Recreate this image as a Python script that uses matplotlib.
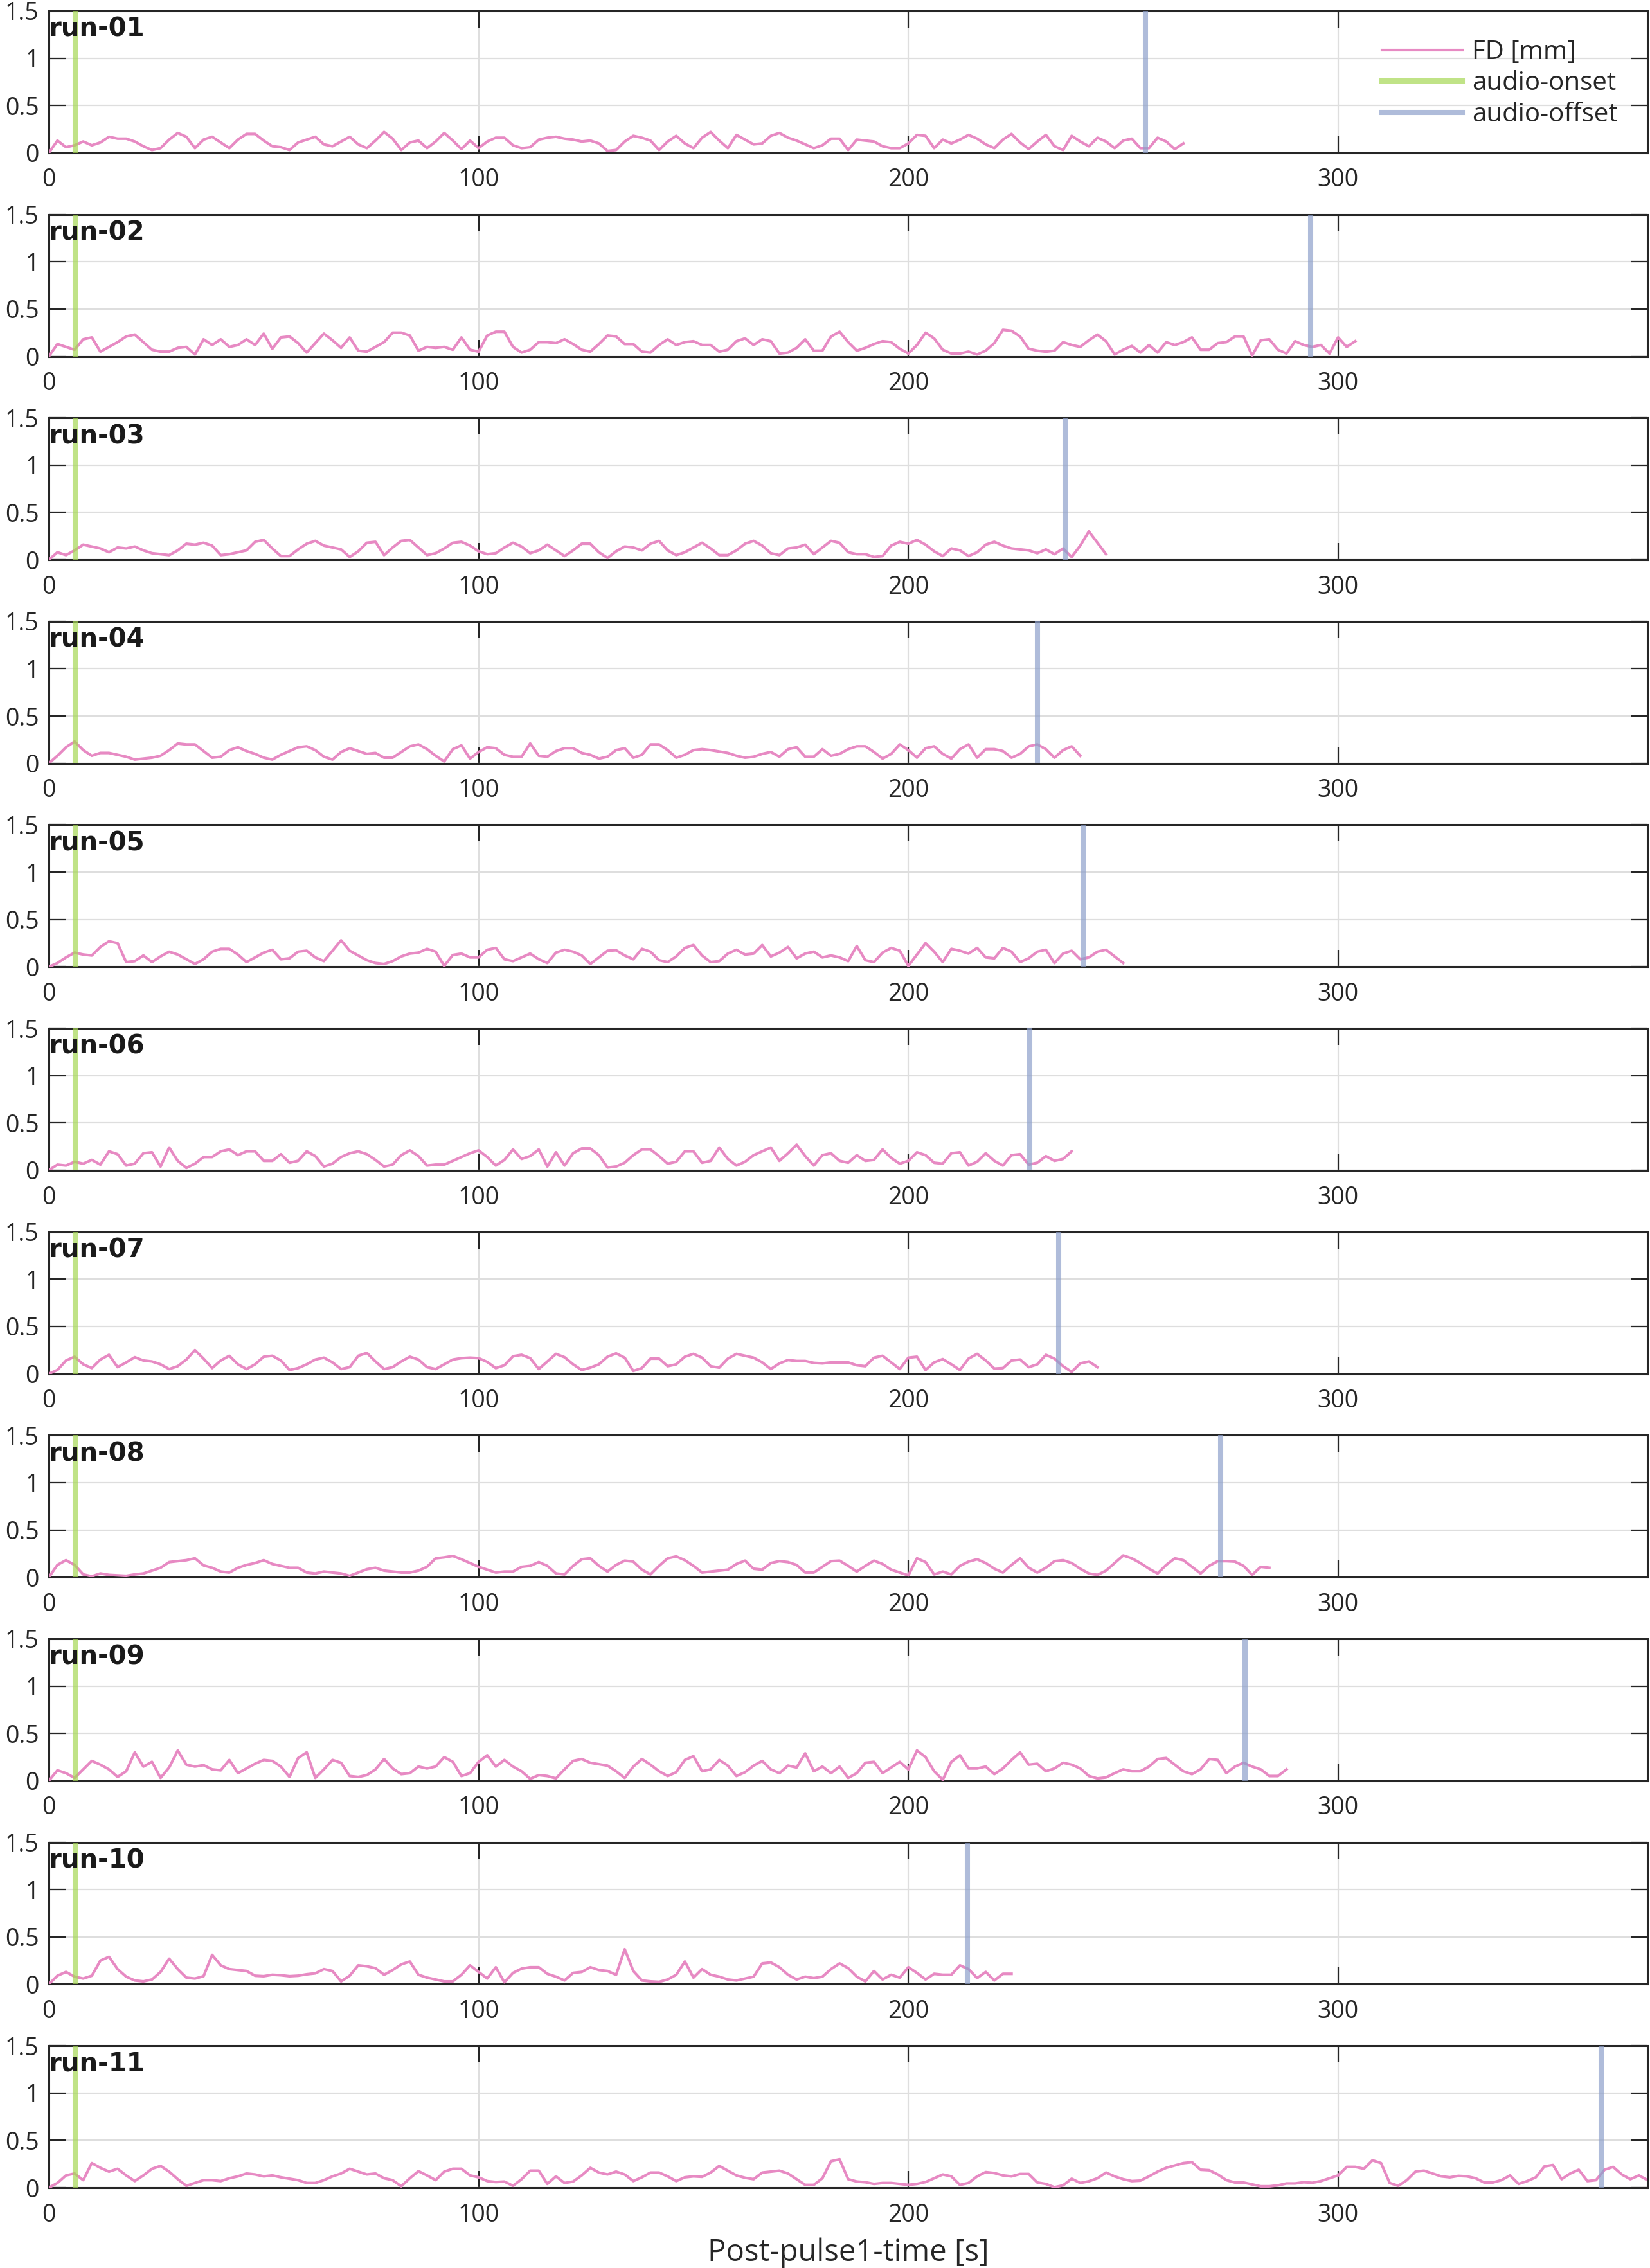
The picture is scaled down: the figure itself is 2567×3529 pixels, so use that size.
import numpy as np
import matplotlib
matplotlib.use("Agg")
import matplotlib.pyplot as plt

# Sampling interval of the FD series (s)
TR = 2.0

run_labels = ["run-01", "run-02", "run-03", "run-04", "run-05", "run-06",
              "run-07", "run-08", "run-09", "run-10", "run-11"]

audio_onset = [6.1, 6.1, 6.1, 6.1, 6.1, 6.1, 6.1, 6.1, 6.1, 6.1, 6.1]
audio_offset = [255.1, 293.6, 236.5, 230.0, 240.7, 228.3, 234.9, 272.6, 278.4, 213.8, 361.2]

fd_run01 = [0.0, 0.13, 0.06, 0.08, 0.12, 0.08, 0.11, 0.17, 0.15, 0.15, 0.12, 0.07, 0.03, 0.05, 0.14, 0.21,
            0.17, 0.05, 0.14, 0.17, 0.11, 0.05, 0.14, 0.20, 0.20, 0.13, 0.07, 0.06, 0.03, 0.11, 0.14, 0.17,
            0.09, 0.07, 0.12, 0.17, 0.09, 0.05, 0.13, 0.22, 0.15, 0.03, 0.11, 0.13, 0.05, 0.12, 0.21, 0.13,
            0.04, 0.13, 0.05, 0.12, 0.16, 0.16, 0.08, 0.05, 0.06, 0.14, 0.16, 0.17, 0.15, 0.14, 0.12, 0.13,
            0.10, 0.02, 0.03, 0.12, 0.18, 0.16, 0.13, 0.03, 0.12, 0.18, 0.10, 0.05, 0.16, 0.22, 0.13, 0.05,
            0.19, 0.14, 0.09, 0.10, 0.18, 0.21, 0.16, 0.13, 0.09, 0.05, 0.08, 0.15, 0.15, 0.03, 0.14, 0.13,
            0.12, 0.07, 0.05, 0.05, 0.10, 0.19, 0.18, 0.05, 0.14, 0.10, 0.14, 0.19, 0.15, 0.09, 0.05, 0.14,
            0.20, 0.11, 0.04, 0.12, 0.19, 0.07, 0.03, 0.18, 0.12, 0.07, 0.16, 0.12, 0.05, 0.13, 0.15, 0.05,
            0.05, 0.16, 0.12, 0.04, 0.10]

fd_run02 = [0.0, 0.13, 0.10, 0.07, 0.18, 0.20, 0.05, 0.10, 0.15, 0.21, 0.23, 0.15, 0.07, 0.05, 0.05, 0.09,
            0.10, 0.02, 0.18, 0.12, 0.18, 0.10, 0.12, 0.18, 0.12, 0.24, 0.08, 0.20, 0.21, 0.14, 0.04, 0.14,
            0.24, 0.17, 0.09, 0.20, 0.06, 0.05, 0.10, 0.15, 0.25, 0.25, 0.22, 0.06, 0.10, 0.09, 0.10, 0.07,
            0.20, 0.07, 0.05, 0.22, 0.26, 0.26, 0.10, 0.04, 0.07, 0.15, 0.15, 0.14, 0.18, 0.13, 0.07, 0.05,
            0.13, 0.22, 0.21, 0.13, 0.13, 0.05, 0.04, 0.12, 0.18, 0.12, 0.15, 0.16, 0.12, 0.12, 0.05, 0.07,
            0.16, 0.19, 0.12, 0.18, 0.16, 0.03, 0.04, 0.09, 0.18, 0.06, 0.06, 0.21, 0.26, 0.15, 0.06, 0.09,
            0.13, 0.16, 0.15, 0.08, 0.03, 0.12, 0.25, 0.19, 0.07, 0.03, 0.03, 0.05, 0.02, 0.06, 0.14, 0.28,
            0.27, 0.21, 0.08, 0.06, 0.05, 0.06, 0.15, 0.12, 0.10, 0.17, 0.23, 0.16, 0.02, 0.07, 0.11, 0.04,
            0.12, 0.04, 0.15, 0.12, 0.15, 0.20, 0.07, 0.07, 0.14, 0.15, 0.21, 0.21, 0.01, 0.17, 0.18, 0.07,
            0.03, 0.16, 0.12, 0.10, 0.12, 0.03, 0.20, 0.10, 0.16]

fd_run03 = [0.0, 0.08, 0.05, 0.10, 0.16, 0.14, 0.12, 0.08, 0.13, 0.12, 0.14, 0.10, 0.07, 0.06, 0.05, 0.10,
            0.17, 0.16, 0.18, 0.15, 0.05, 0.06, 0.08, 0.10, 0.19, 0.21, 0.12, 0.04, 0.04, 0.11, 0.17, 0.20,
            0.15, 0.13, 0.11, 0.03, 0.09, 0.18, 0.19, 0.05, 0.13, 0.20, 0.21, 0.13, 0.05, 0.07, 0.12, 0.18,
            0.19, 0.15, 0.09, 0.06, 0.07, 0.13, 0.18, 0.14, 0.07, 0.10, 0.16, 0.10, 0.04, 0.10, 0.17, 0.17,
            0.08, 0.02, 0.09, 0.14, 0.13, 0.10, 0.17, 0.20, 0.10, 0.05, 0.08, 0.13, 0.18, 0.12, 0.05, 0.05,
            0.10, 0.17, 0.20, 0.15, 0.07, 0.05, 0.12, 0.13, 0.16, 0.06, 0.13, 0.20, 0.18, 0.08, 0.06, 0.06,
            0.03, 0.04, 0.15, 0.19, 0.17, 0.21, 0.16, 0.09, 0.04, 0.12, 0.10, 0.04, 0.08, 0.16, 0.19, 0.15,
            0.12, 0.11, 0.10, 0.07, 0.11, 0.06, 0.12, 0.03, 0.15, 0.30, 0.18, 0.06]

fd_run04 = [0.0, 0.08, 0.17, 0.23, 0.14, 0.08, 0.11, 0.11, 0.09, 0.07, 0.04, 0.05, 0.06, 0.08, 0.14, 0.21,
            0.20, 0.20, 0.13, 0.06, 0.07, 0.14, 0.17, 0.13, 0.10, 0.06, 0.04, 0.09, 0.13, 0.17, 0.18, 0.14,
            0.07, 0.04, 0.12, 0.16, 0.13, 0.10, 0.11, 0.06, 0.06, 0.12, 0.18, 0.20, 0.15, 0.08, 0.02, 0.15,
            0.19, 0.05, 0.12, 0.17, 0.16, 0.09, 0.07, 0.07, 0.21, 0.08, 0.07, 0.13, 0.16, 0.16, 0.11, 0.09,
            0.05, 0.07, 0.14, 0.16, 0.06, 0.09, 0.20, 0.20, 0.14, 0.06, 0.09, 0.14, 0.15, 0.14, 0.125, 0.11,
            0.08, 0.06, 0.07, 0.10, 0.12, 0.07, 0.15, 0.17, 0.07, 0.07, 0.15, 0.08, 0.10, 0.15, 0.18, 0.18,
            0.12, 0.05, 0.10, 0.20, 0.14, 0.06, 0.16, 0.18, 0.10, 0.05, 0.15, 0.20, 0.06, 0.15, 0.15, 0.13,
            0.06, 0.10, 0.18, 0.20, 0.15, 0.06, 0.14, 0.18, 0.08]

fd_run05 = [0.0, 0.04, 0.10, 0.15, 0.13, 0.12, 0.21, 0.27, 0.25, 0.05, 0.06, 0.12, 0.05, 0.11, 0.16, 0.13,
            0.08, 0.03, 0.08, 0.16, 0.19, 0.19, 0.13, 0.05, 0.10, 0.15, 0.18, 0.08, 0.09, 0.16, 0.17, 0.10,
            0.06, 0.17, 0.28, 0.17, 0.12, 0.07, 0.04, 0.03, 0.06, 0.11, 0.14, 0.15, 0.19, 0.16, 0.01, 0.125,
            0.14, 0.10, 0.10, 0.18, 0.20, 0.08, 0.06, 0.10, 0.14, 0.08, 0.04, 0.15, 0.18, 0.16, 0.12, 0.03,
            0.10, 0.17, 0.175, 0.12, 0.08, 0.19, 0.16, 0.07, 0.05, 0.11, 0.20, 0.23, 0.12, 0.05, 0.06, 0.14,
            0.18, 0.13, 0.14, 0.23, 0.11, 0.15, 0.21, 0.09, 0.14, 0.16, 0.10, 0.12, 0.10, 0.06, 0.22, 0.07,
            0.05, 0.15, 0.20, 0.17, 0.01, 0.13, 0.25, 0.16, 0.05, 0.19, 0.17, 0.14, 0.20, 0.10, 0.09, 0.20,
            0.16, 0.05, 0.09, 0.16, 0.18, 0.04, 0.14, 0.17, 0.08, 0.10, 0.16, 0.18, 0.11, 0.04]

fd_run06 = [0.0, 0.06, 0.05, 0.09, 0.07, 0.11, 0.06, 0.20, 0.17, 0.05, 0.07, 0.18, 0.19, 0.04, 0.24, 0.10,
            0.025, 0.07, 0.14, 0.14, 0.20, 0.22, 0.16, 0.20, 0.20, 0.10, 0.10, 0.17, 0.08, 0.10, 0.20, 0.15,
            0.04, 0.07, 0.14, 0.18, 0.20, 0.17, 0.11, 0.04, 0.06, 0.16, 0.21, 0.15, 0.05, 0.06, 0.06, 0.10,
            0.14, 0.18, 0.21, 0.14, 0.05, 0.11, 0.22, 0.12, 0.15, 0.22, 0.04, 0.19, 0.05, 0.18, 0.23, 0.23,
            0.16, 0.03, 0.04, 0.08, 0.16, 0.22, 0.22, 0.15, 0.07, 0.09, 0.20, 0.20, 0.08, 0.10, 0.24, 0.12,
            0.05, 0.09, 0.16, 0.20, 0.24, 0.10, 0.18, 0.27, 0.15, 0.05, 0.16, 0.18, 0.10, 0.08, 0.16, 0.10,
            0.11, 0.22, 0.13, 0.07, 0.10, 0.19, 0.16, 0.08, 0.07, 0.18, 0.19, 0.05, 0.09, 0.18, 0.10, 0.05,
            0.16, 0.17, 0.06, 0.08, 0.15, 0.10, 0.12, 0.20]

fd_run07 = [0.0, 0.04, 0.14, 0.18, 0.10, 0.06, 0.15, 0.20, 0.07, 0.12, 0.175, 0.14, 0.13, 0.10, 0.05, 0.08,
            0.15, 0.25, 0.16, 0.06, 0.14, 0.19, 0.10, 0.05, 0.10, 0.18, 0.19, 0.14, 0.04, 0.06, 0.10, 0.15,
            0.17, 0.12, 0.05, 0.07, 0.19, 0.22, 0.13, 0.05, 0.07, 0.13, 0.18, 0.15, 0.07, 0.05, 0.10, 0.15,
            0.165, 0.17, 0.165, 0.125, 0.06, 0.09, 0.185, 0.20, 0.165, 0.05, 0.13, 0.21, 0.175, 0.10, 0.04, 0.065,
            0.10, 0.18, 0.215, 0.17, 0.03, 0.06, 0.16, 0.16, 0.08, 0.10, 0.18, 0.21, 0.17, 0.08, 0.065, 0.16,
            0.21, 0.19, 0.17, 0.12, 0.05, 0.11, 0.145, 0.135, 0.135, 0.115, 0.11, 0.12, 0.12, 0.12, 0.09, 0.08,
            0.17, 0.19, 0.12, 0.05, 0.17, 0.18, 0.04, 0.12, 0.155, 0.10, 0.04, 0.16, 0.21, 0.14, 0.055, 0.06,
            0.14, 0.15, 0.07, 0.10, 0.20, 0.16, 0.08, 0.02, 0.11, 0.13, 0.07]

fd_run08 = [0.0, 0.13, 0.18, 0.13, 0.03, 0.01, 0.04, 0.025, 0.02, 0.015, 0.03, 0.04, 0.07, 0.10, 0.16, 0.17,
            0.18, 0.20, 0.125, 0.10, 0.06, 0.05, 0.10, 0.13, 0.15, 0.18, 0.14, 0.12, 0.10, 0.10, 0.05, 0.04,
            0.06, 0.05, 0.04, 0.015, 0.05, 0.085, 0.10, 0.07, 0.06, 0.05, 0.05, 0.07, 0.11, 0.20, 0.21, 0.225,
            0.19, 0.15, 0.11, 0.08, 0.05, 0.06, 0.06, 0.11, 0.12, 0.16, 0.12, 0.04, 0.03, 0.12, 0.19, 0.20,
            0.12, 0.06, 0.13, 0.175, 0.165, 0.08, 0.03, 0.12, 0.20, 0.22, 0.18, 0.12, 0.05, 0.06, 0.07, 0.08,
            0.14, 0.175, 0.09, 0.08, 0.15, 0.17, 0.16, 0.13, 0.05, 0.05, 0.11, 0.17, 0.175, 0.12, 0.06, 0.12,
            0.175, 0.14, 0.08, 0.05, 0.02, 0.20, 0.16, 0.03, 0.06, 0.03, 0.12, 0.165, 0.19, 0.15, 0.09, 0.05,
            0.13, 0.20, 0.10, 0.05, 0.10, 0.17, 0.18, 0.15, 0.09, 0.04, 0.025, 0.07, 0.15, 0.23, 0.20, 0.15,
            0.09, 0.04, 0.13, 0.20, 0.18, 0.11, 0.04, 0.12, 0.17, 0.17, 0.165, 0.12, 0.025, 0.11, 0.10]

fd_run09 = [0.0, 0.11, 0.08, 0.03, 0.12, 0.21, 0.17, 0.12, 0.04, 0.10, 0.30, 0.15, 0.20, 0.03, 0.14, 0.32,
            0.17, 0.15, 0.165, 0.12, 0.11, 0.22, 0.08, 0.13, 0.18, 0.22, 0.21, 0.15, 0.04, 0.24, 0.30, 0.03,
            0.12, 0.22, 0.19, 0.05, 0.04, 0.06, 0.12, 0.23, 0.13, 0.07, 0.08, 0.15, 0.13, 0.15, 0.25, 0.20,
            0.05, 0.08, 0.20, 0.27, 0.15, 0.22, 0.15, 0.10, 0.02, 0.06, 0.05, 0.025, 0.12, 0.21, 0.23, 0.19,
            0.175, 0.16, 0.10, 0.03, 0.15, 0.23, 0.17, 0.10, 0.05, 0.09, 0.22, 0.26, 0.10, 0.12, 0.22, 0.16,
            0.05, 0.09, 0.16, 0.21, 0.12, 0.08, 0.16, 0.14, 0.29, 0.10, 0.15, 0.08, 0.15, 0.03, 0.08, 0.19,
            0.20, 0.08, 0.14, 0.20, 0.12, 0.32, 0.25, 0.10, 0.01, 0.20, 0.27, 0.13, 0.13, 0.15, 0.07, 0.13,
            0.22, 0.30, 0.17, 0.18, 0.10, 0.13, 0.19, 0.17, 0.13, 0.05, 0.025, 0.035, 0.08, 0.12, 0.10, 0.10,
            0.15, 0.23, 0.24, 0.17, 0.10, 0.07, 0.12, 0.23, 0.22, 0.08, 0.15, 0.19, 0.15, 0.12, 0.05, 0.05,
            0.12]

fd_run10 = [0.0, 0.09, 0.13, 0.08, 0.06, 0.09, 0.25, 0.29, 0.16, 0.08, 0.04, 0.03, 0.05, 0.13, 0.27, 0.16,
            0.07, 0.06, 0.085, 0.31, 0.20, 0.16, 0.15, 0.14, 0.09, 0.085, 0.10, 0.095, 0.085, 0.09, 0.105, 0.115,
            0.16, 0.14, 0.03, 0.09, 0.20, 0.19, 0.17, 0.10, 0.15, 0.21, 0.24, 0.10, 0.07, 0.05, 0.03, 0.03,
            0.10, 0.20, 0.13, 0.06, 0.18, 0.02, 0.12, 0.165, 0.18, 0.18, 0.11, 0.08, 0.04, 0.12, 0.13, 0.18,
            0.15, 0.14, 0.10, 0.37, 0.14, 0.04, 0.03, 0.025, 0.05, 0.10, 0.24, 0.07, 0.16, 0.10, 0.08, 0.05,
            0.04, 0.06, 0.08, 0.22, 0.23, 0.18, 0.10, 0.05, 0.08, 0.065, 0.08, 0.16, 0.22, 0.17, 0.08, 0.03,
            0.14, 0.05, 0.10, 0.07, 0.18, 0.12, 0.05, 0.11, 0.10, 0.10, 0.20, 0.16, 0.065, 0.13, 0.04, 0.11,
            0.11]

fd_run11 = [0.0, 0.05, 0.13, 0.15, 0.08, 0.26, 0.21, 0.17, 0.20, 0.13, 0.07, 0.13, 0.20, 0.23, 0.17, 0.09,
            0.02, 0.05, 0.08, 0.08, 0.07, 0.10, 0.12, 0.15, 0.14, 0.12, 0.13, 0.11, 0.095, 0.08, 0.05, 0.05,
            0.08, 0.12, 0.15, 0.20, 0.17, 0.14, 0.15, 0.10, 0.08, 0.015, 0.10, 0.175, 0.13, 0.08, 0.17, 0.20,
            0.20, 0.13, 0.11, 0.07, 0.06, 0.065, 0.02, 0.09, 0.18, 0.18, 0.04, 0.12, 0.05, 0.065, 0.13, 0.21,
            0.16, 0.14, 0.17, 0.14, 0.07, 0.11, 0.16, 0.16, 0.12, 0.07, 0.11, 0.12, 0.115, 0.16, 0.23, 0.18,
            0.13, 0.105, 0.09, 0.16, 0.17, 0.18, 0.15, 0.09, 0.03, 0.03, 0.10, 0.28, 0.30, 0.09, 0.065, 0.058,
            0.04, 0.05, 0.05, 0.04, 0.03, 0.04, 0.06, 0.10, 0.14, 0.12, 0.03, 0.05, 0.12, 0.165, 0.155, 0.13,
            0.12, 0.145, 0.145, 0.055, 0.04, 0.005, 0.025, 0.095, 0.05, 0.068, 0.10, 0.16, 0.12, 0.09, 0.07, 0.075,
            0.12, 0.17, 0.21, 0.235, 0.26, 0.27, 0.19, 0.185, 0.14, 0.08, 0.055, 0.055, 0.035, 0.015, 0.015, 0.025,
            0.045, 0.045, 0.058, 0.052, 0.07, 0.10, 0.13, 0.22, 0.22, 0.20, 0.29, 0.26, 0.05, 0.02, 0.08, 0.17,
            0.18, 0.15, 0.12, 0.11, 0.125, 0.12, 0.10, 0.055, 0.055, 0.08, 0.13, 0.04, 0.07, 0.11, 0.225, 0.24,
            0.09, 0.15, 0.19, 0.07, 0.08, 0.19, 0.22, 0.14, 0.09, 0.13, 0.08]

fd_runs = [fd_run01, fd_run02, fd_run03, fd_run04, fd_run05, fd_run06,
           fd_run07, fd_run08, fd_run09, fd_run10, fd_run11]

x_ticks = [0, 100, 200, 300]
y_ticks = [0, 0.5, 1, 1.5]
y_ticklabels = ["0", "0.5", "1", "1.5"]

plt.rcParams["font.family"] = ["Open Sans", "DejaVu Sans"]
plt.rcParams["font.size"] = 27
plt.rcParams["text.color"] = "#262626"

fig, axes = plt.subplots(len(fd_runs), 1, figsize=(25.67, 35.29), dpi=100)
fig.subplots_adjust(left=0.0296, right=0.9985, top=0.9952, bottom=0.0354, hspace=0.433)

x_max = max((len(fd) - 1) * TR for fd in fd_runs)

for i, ax in enumerate(axes):
    fd = fd_runs[i]
    t = np.arange(len(fd)) * TR
    ax.plot(t, fd, color="#e78ac3", lw=3.0, label="FD [mm]", zorder=3)
    ax.axvline(audio_onset[i], color="#a6d854", alpha=0.7, lw=5.8, label="audio-onset", zorder=4)
    ax.axvline(audio_offset[i], color="#8da0cb", alpha=0.7, lw=5.8, label="audio-offset", zorder=4)

    ax.set_xlim(0, x_max)
    ax.set_ylim(0, 1.5)
    ax.set_xticks(x_ticks)
    ax.set_yticks(y_ticks)
    ax.set_yticklabels(y_ticklabels)
    ax.grid(True, color="#dedede", lw=1.6)
    ax.set_axisbelow(True)
    ax.tick_params(direction="in", length=19, width=1.6, top=True, right=True,
                   colors="#262626", labelsize=27)
    ax.tick_params(axis="x", pad=17)
    ax.tick_params(axis="y", pad=11)
    for sp in ax.spines.values():
        sp.set_linewidth(2.2)
        sp.set_color("#262626")

    ax.text(0.0, 0.96, run_labels[i], transform=ax.transAxes, fontweight="bold",
            family="DejaVu Sans", fontsize=29, ha="left", va="top", color="#1a1a1a", zorder=6)

    if i == 0:
        ax.legend(loc="upper left", bbox_to_anchor=(0.834, 0.80), frameon=False,
                  fontsize=29, handlelength=3.1, handletextpad=0.38, labelspacing=0.2,
                  borderpad=0, borderaxespad=0)

fig.text(0.514, 0.0068, "Post-pulse1-time [s]", ha="center", va="center",
         fontsize=34, color="#262626")

fig.savefig("out.png", dpi=100)
